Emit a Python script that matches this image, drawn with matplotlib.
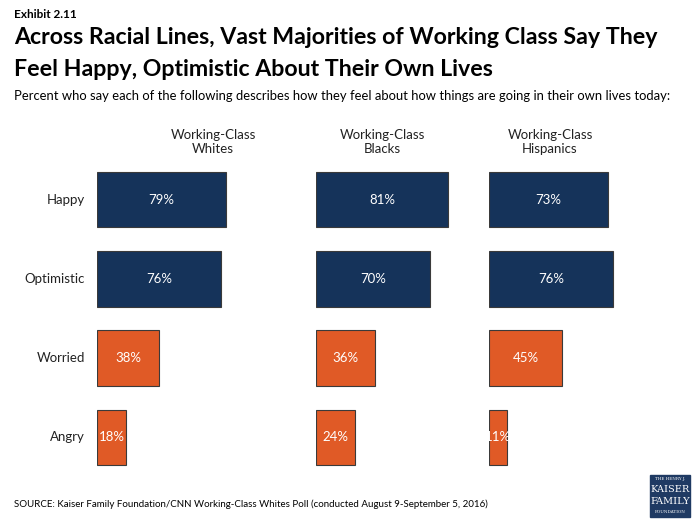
import matplotlib.pyplot as plt
from matplotlib.patches import Rectangle

plt.rcParams['font.family'] = ['Lato', 'DejaVu Sans']

groups = ["Working-Class\nWhites", "Working-Class\nBlacks", "Working-Class\nHispanics"]
feelings = ["Happy", "Optimistic", "Worried", "Angry"]
values = {
    "Working-Class\nWhites": [79, 76, 38, 18],
    "Working-Class\nBlacks": [81, 70, 36, 24],
    "Working-Class\nHispanics": [73, 76, 45, 11],
}

NAVY = "#15335a"
ORANGE = "#e05a26"
colors = [NAVY, NAVY, ORANGE, ORANGE]

W, H = 698, 523
fig = plt.figure(figsize=(W / 100, H / 100), dpi=100)

# panel left edges in pixels, each 100% = 163 px; header centres
lefts = [97, 316, 489]
header_x = [213, 382, 550]
top, bottom = 160, 477  # pixel rows spanning the four bar slots

for g, left, hx in zip(groups, lefts, header_x):
    ax = fig.add_axes([left / W, 1 - bottom / H, 163 / W, (bottom - top) / H])
    vals = values[g]
    ypos = range(len(feelings))
    ax.barh(ypos, vals, height=0.7, color=colors, edgecolor="#3a3a3a", linewidth=0.8)
    for y, v in zip(ypos, vals):
        ax.text(v / 2, y, f"{v}%", ha="center", va="center", color="white", fontsize=9.5)
    ax.set_xlim(0, 100)
    ax.set_ylim(3.5, -0.5)
    ax.axis("off")
    fig.text(hx / W, 1 - 142 / H, g, ha="center", va="center", fontsize=9.5,
             color="#222222", linespacing=1.25)

# row labels
ax0 = fig.axes[0]
for y, f in enumerate(feelings):
    ax0.text(-7.5, y, f, ha="right", va="center", fontsize=9.5, color="#222222")

fig.text(14 / W, 1 - 14 / H, "Exhibit 2.11", fontsize=8.5, fontweight="bold", va="center")
fig.text(14 / W, 1 - 38 / H, "Across Racial Lines, Vast Majorities of Working Class Say They",
         fontsize=16.7, fontweight="bold", va="center")
fig.text(14 / W, 1 - 70 / H, "Feel Happy, Optimistic About Their Own Lives",
         fontsize=16.7, fontweight="bold", va="center")
fig.text(14 / W, 1 - 96 / H,
         "Percent who say each of the following describes how they feel about how things are going in their own lives today:",
         fontsize=9.4, va="center")
fig.text(14 / W, 1 - 504 / H,
         "SOURCE: Kaiser Family Foundation/CNN Working-Class Whites Poll (conducted August 9-September 5, 2016)",
         fontsize=7, va="center")

# logo box
fig.patches.append(Rectangle((650 / W, 1 - 517 / H), 40 / W, 42 / H,
                             transform=fig.transFigure, color="#1f3a63"))
lx = 670 / W
fig.text(lx, 1 - 479 / H, "THE HENRY J.", fontsize=3, color="white", ha="center", va="center",
         family="DejaVu Serif")
fig.text(lx, 1 - 490 / H, "KAISER", fontsize=7, color="white", ha="center", va="center",
         family="DejaVu Serif")
fig.text(lx, 1 - 501 / H, "FAMILY", fontsize=7, color="white", ha="center", va="center",
         family="DejaVu Serif")
fig.text(lx, 1 - 512 / H, "FOUNDATION", fontsize=3, color="white", ha="center", va="center",
         family="DejaVu Serif")

fig.savefig("out.png", dpi=100)
